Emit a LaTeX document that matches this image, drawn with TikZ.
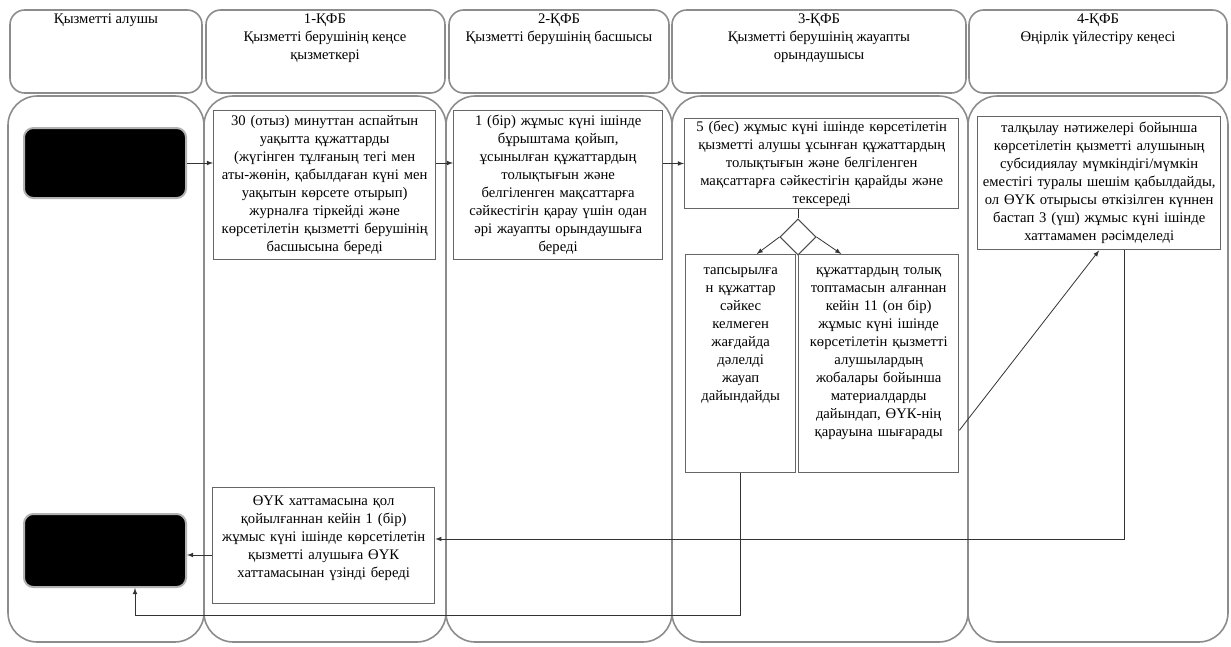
\documentclass[tikz,border=0pt]{standalone}
\usepackage{fontspec}
\setmainfont{Liberation Serif}
\usetikzlibrary{
  positioning, arrows,
  shapes.geometric
}

\begin{document}
\begin{tikzpicture}[x=0.75pt,y=-0.75pt,>=latex,
    font=\fontsize{11}{13.5}\selectfont,
    lane/.style={draw=black!45, line width=1.2pt, rounded corners=22pt},
    head/.style={draw=black!45, line width=1.2pt, rounded corners=11pt},
    htext/.style={anchor=north, align=center, inner sep=1pt},
    box/.style={draw=black!60, line width=1pt, align=center, anchor=north west,
      inner xsep=1.5pt, inner ysep=3pt, text width=#1},
    tall/.style={text height=12pt, text depth=145.5pt},
    start/.style={fill=black, draw=black!30, line width=1.5pt, rounded corners=7pt,
      anchor=north west, inner sep=0pt, minimum width=121.5pt},
    conn/.style={draw=black!80, line width=0.6pt}]
  \useasboundingbox (0,0) rectangle (1231,646);

  % lanes
  \foreach \xa/\xb in {10/202, 206/445, 449/669, 672/966, 969/1227}
    \draw[head] (\xa,10) rectangle (\xb,93);
  \foreach \xa/\xb in {8/204, 204/446, 446/672, 672/968, 968/1228}
    \draw[lane] (\xa,96) rectangle (\xb,642);

  \node[htext] (h_0) at (106,12) {Қызметті алушы};
  \node[htext] (h_1) at (325,12) {1-ҚФБ\\Қызметті берушінің кеңсе\\қызметкері};
  \node[htext] (h_2) at (559,12) {2-ҚФБ\\Қызметті берушінің басшысы};
  \node[htext] (h_3) at (819,12) {3-ҚФБ\\Қызметті берушінің жауапты\\орындаушысы};
  \node[htext] (h_4) at (1098,12) {4-ҚФБ\\Өңірлік үйлестіру кеңесі};

  % steps
  \node[start, minimum height=52.5pt] (s_0) at (23,127) {};
  \node[start, minimum height=54.75pt] (s_1) at (23,513) {};

  \node[box=163.5pt, minimum height=111.75pt] (a_1) at (213,110)
    {30 (отыз) минуттан аспайтын\\уақытта құжаттарды\\(жүгінген тұлғаның тегі мен\\аты-жөнін, қабылдаған күні мен\\уақытын көрсете отырып)\\журналға тіркейді және\\көрсетілетін қызметті берушінің\\басшысына береді};
  \node[box=153.75pt, minimum height=111.75pt] (a_2) at (453,110)
    {1 (бір) жұмыс күні ішінде\\бұрыштама қойып,\\ұсынылған құжаттардың\\толықтығын және\\белгіленген мақсаттарға\\сәйкестігін қарау үшін одан\\әрі жауапты орындаушыға\\береді};
  \node[box=202.5pt, inner ysep=1.5pt, minimum height=66pt] (a_3) at (684,118)
    {5 (бес) жұмыс күні ішінде көрсетілетін\\қызметті алушы ұсынған құжаттардың\\толықтығын және белгіленген\\мақсаттарға сәйкестігін қарайды және\\тексереді};
  \node[diamond, draw=black!70, line width=0.8pt, inner sep=0pt, minimum size=27pt]
    (d) at (798,237) {};
  \node[box=79.5pt, tall] (a_4) at (685,254)
    {тапсырылға\\н құжаттар\\сәйкес\\келмеген\\жағдайда\\дәлелді\\жауап\\дайындайды};
  \node[box=117pt, tall] (a_5) at (798,254)
    {құжаттардың толық\\топтамасын алғаннан\\кейін 11 (он бір)\\жұмыс күні ішінде\\көрсетілетін қызметті\\алушылардың\\жобалары бойынша\\материалдарды\\дайындап, ӨҮК-нің\\қарауына шығарады};
  \node[box=179.25pt, minimum height=99.75pt] (a_6) at (977,116)
    {талқылау нәтижелері бойынша\\көрсетілетін қызметті алушының\\субсидиялау мүмкіндігі/мүмкін\\еместігі туралы шешім қабылдайды,\\ол ӨҮК отырысы өткізілген күннен\\бастап 3 (үш) жұмыс күні ішінде\\хаттамамен рәсімделеді};
  \node[box=163.5pt, text height=10pt, text depth=71pt] (a_7) at (212,487)
    {ӨҮК хаттамасына қол\\қойылғаннан кейін 1 (бір)\\жұмыс күні ішінде көрсетілетін\\қызметті алушыға ӨҮК\\хаттамасынан үзінді береді};

  % connectors
  \coordinate (c_1) at (135,615);
  \draw[conn,->] (s_0.east) -- (s_0.east -| a_1.west);
  \draw[conn,->] (a_1.east |- s_0.east) -- (a_2.west |- s_0.east);
  \draw[conn,->] (a_2.east |- a_3.west) -- (a_3.west);
  \draw[conn] (a_3.south -| d.north) -- (d.north);
  \draw[conn,->] (d.west) -- ([xshift=12pt]a_4.north);
  \draw[conn,->] (d.east) -- ([xshift=-28pt]a_5.north);
  \draw[conn,->] ([yshift=-50pt]a_5.east) -- (a_6.south);
  \draw[conn,->] ([xshift=19pt]a_6.south) |- ([yshift=5pt]a_7.east);
  \draw[conn,->] ([yshift=-7pt]a_7.west) -- ([yshift=-7pt]a_7.west -| s_1.east);
  \draw[conn,->] (a_4.south) |- (c_1) -- (c_1 |- s_1.south);
\end{tikzpicture}
\end{document}
